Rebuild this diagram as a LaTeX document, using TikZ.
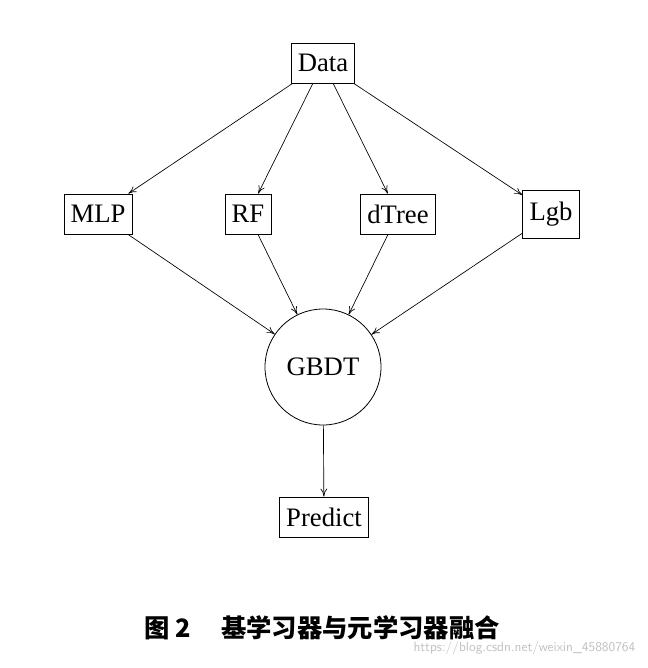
\documentclass[tikz,border=0pt]{standalone}
\usepackage{fontspec}
\setmainfont{Liberation Serif}
\newfontfamily\cjk{Noto Sans CJK SC}
\usetikzlibrary{arrows.meta}
\begin{document}
\begin{tikzpicture}[x=0.75pt,y=-0.75pt,
  box/.style={draw,line width=0.6pt,minimum height=30pt,inner xsep=5pt,font=\fontsize{20}{24}\selectfont},
  arr/.style={-{To[length=6pt,width=5pt]},line width=0.5pt}]
\useasboundingbox (0,0) rectangle (647,668);
\node[box] (data) at (323,63) {Data};
\node[box] (mlp) at (98,214) {MLP};
\node[box] (rf) at (248,214) {RF};
\node[box] (dtree) at (398,214) {dTree};
\node[box,minimum height=36pt] (lgb) at (551,214) {Lgb};
\node[draw,circle,line width=0.6pt,minimum size=87pt,font=\fontsize{20}{24}\selectfont] (gbdt) at (323,367) {GBDT};
\node[box] (pred) at (324,517) {Predict};
\draw[arr] (data) -- (mlp);
\draw[arr] (data) -- (rf);
\draw[arr] (data) -- (dtree);
\draw[arr] (data) -- (lgb);
\draw[arr] (mlp) -- (gbdt);
\draw[arr] (rf) -- (gbdt);
\draw[arr] (dtree) -- (gbdt);
\draw[arr] (lgb) -- (gbdt);
\draw[arr] (gbdt) -- (pred);
\node[font=\cjk\bfseries\fontsize{19}{22}\selectfont] (cap) at (322,628) {图 2\hspace{1.2em}基学习器与元学习器融合};
\node[font=\sffamily\fontsize{10}{12}\selectfont,text=black!25,anchor=east] (wm) at (640,648) {https://blog.csdn.net/weixin\_45880764};
\end{tikzpicture}
\end{document}
